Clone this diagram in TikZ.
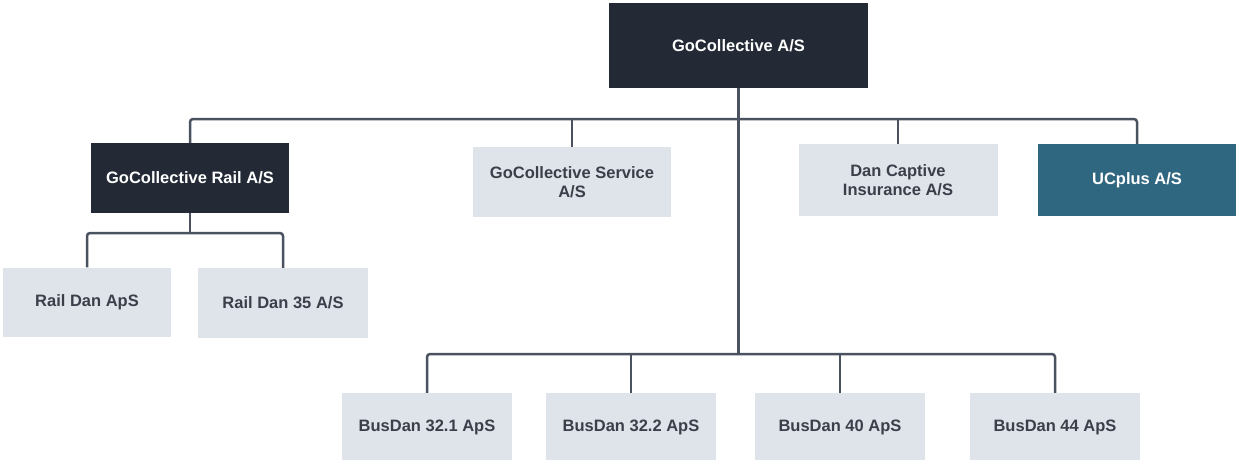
\documentclass[tikz,border=0pt]{standalone}
\usepackage{fontspec}
\setmainfont{Liberation Sans}
\usetikzlibrary{positioning}
\definecolor{navy}{HTML}{232A36}
\definecolor{paleblue}{HTML}{DFE3EA}
\definecolor{petrol}{HTML}{2F6680}
\definecolor{wire}{HTML}{4A5260}
\definecolor{greytext}{HTML}{3A3F4A}

\begin{document}
\begin{tikzpicture}[x=1pt, y=-1pt,
		box/.style={rectangle, inner sep=0pt, align=center, font=\fontsize{16.5}{19}\selectfont\bfseries},
		darkbox/.style={box, fill=navy, text=white},
		lightbox/.style={box, fill=paleblue, text=greytext},
		tealbox/.style={box, fill=petrol, text=white},
		link/.style={draw=wire, line width=2.5pt, rounded corners=3pt}]
		%%%%% START %%%%%
		\useasboundingbox (0,0) rectangle (1236,459);
		
		\node[darkbox, minimum width=259pt, minimum height=85pt] (top) at (738.5, 45.5) {GoCollective A/S};
		
		% second row
		\node[darkbox, minimum width=198pt, minimum height=70pt] (rail) at (190, 178) {GoCollective Rail A/S};
		\node[lightbox, minimum width=198pt, minimum height=70pt] (service) at (572, 182) {GoCollective Service\\A/S};
		\node[lightbox, minimum width=199pt, minimum height=72pt] (captive) at (898, 180) {Dan Captive\\Insurance A/S};
		\node[tealbox, minimum width=198pt, minimum height=72pt] (ucplus) at (1137, 180) {UCplus A/S};
		
		% rail companies
		\node[lightbox, minimum width=168pt, minimum height=69pt] (raildan) at (87, 302) {Rail Dan ApS};
		\node[lightbox, minimum width=170pt, minimum height=70pt] (raildan35) at (283, 303) {Rail Dan 35 A/S};
		
		% bus companies
		\node[lightbox, minimum width=170pt, minimum height=68pt] (bus1) at (427, 427) {BusDan 32.1 ApS};
		\node[lightbox, minimum width=170pt, minimum height=68pt] (bus2) at (631, 427) {BusDan 32.2 ApS};
		\node[lightbox, minimum width=170pt, minimum height=68pt] (bus3) at (840, 427) {BusDan 40 ApS};
		\node[lightbox, minimum width=170pt, minimum height=68pt] (bus4) at (1055, 427) {BusDan 44 ApS};
		
		\coordinate (hub) at (738.5, 119);
		\coordinate (railhub) at (190, 233);
		\coordinate (bushub) at (738.5, 354);
		
		\draw[link] (rail.north) |- (ucplus.north |- hub) -- (ucplus.north);
		\draw[link] (service.north) -- (service.north |- hub);
		\draw[link] (captive.north) -- (captive.north |- hub);
		\draw[link] (top.south) -- (bushub);
		
		\draw[link] (rail.south) -- (railhub);
		\draw[link] (raildan.north) |- (raildan35.north |- railhub) -- (raildan35.north);
		
		\draw[link] (bus1.north) |- (bus4.north |- bushub) -- (bus4.north);
		\draw[link] (bus2.north) -- (bus2.north |- bushub);
		\draw[link] (bus3.north) -- (bus3.north |- bushub);
		
		%%%%% END %%%%%
	\end{tikzpicture}
\end{document}
